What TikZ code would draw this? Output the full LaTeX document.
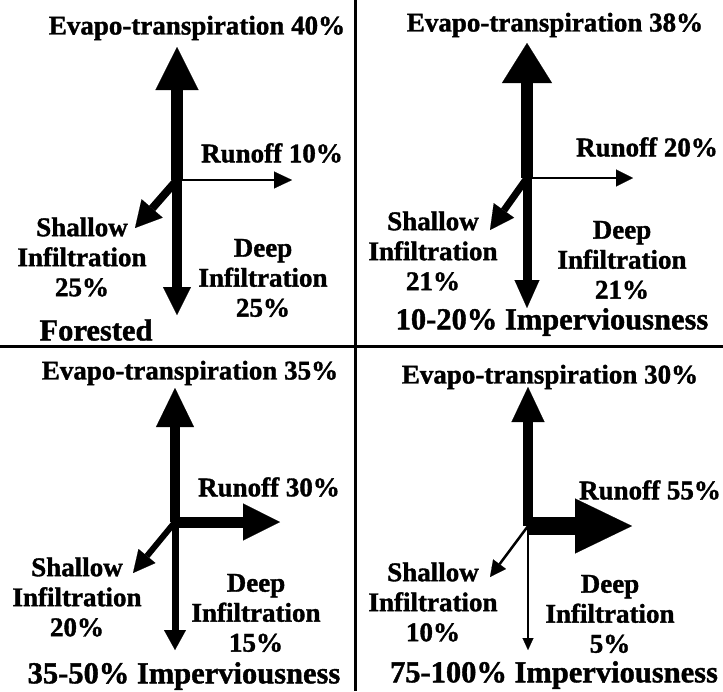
\documentclass[tikz,border=0pt]{standalone}
\usepackage{fontspec}
\setmainfont[BoldFeatures={FakeBold=1.3}]{Liberation Serif}
\usetikzlibrary{arrows.meta}
\tikzset{
    lbl/.style={font=\fontsize{27}{30}\selectfont\bfseries, align=center,
    	inner sep=0pt},
    ttl/.style={font=\fontsize{30.5}{33}\selectfont\bfseries, inner sep=0pt},
    flow/.style n args={3}{line width=#1,
    	-{Triangle[width=#2, length=#3, line width=0.1pt]}},
    rule/.style={line width=3pt}
}

\begin{document}
\begin{tikzpicture}[x=1pt, y=-1pt]
  \useasboundingbox (0, 0) rectangle (723, 691);
  \draw [rule] (355, 0) -- (355, 691);
  \draw [rule] (0, 346) -- (723, 346);

  % Forested
  \coordinate (mid_1) at (177, 180);
  \coordinate (up_1) at (177, 47);
  \coordinate (down_1) at (177, 315);
  \coordinate (run_1) at (292, 180);
  \coordinate (sh_1) at (135, 228);
  \node (et_1) [lbl] at (197, 28) {Evapo-transpiration 40\%};
  \node (ro_1) [lbl] at (272, 153) {Runoff 10\%};
  \node (si_1) [lbl] at (82, 257) {Shallow\\Infiltration\\25\%};
  \node (di_1) [lbl] at (263, 278) {Deep\\Infiltration\\25\%};
  \node (title_1) [ttl] at (96, 330) {Forested};
  \draw [flow={12pt}{43pt}{43pt}] (mid_1) -- (up_1);
  \draw [flow={10pt}{28pt}{28pt}] (mid_1) -- (down_1);
  \draw [flow={2pt}{17pt}{18pt}] (mid_1) -- (run_1);
  \draw [flow={8pt}{28pt}{26pt}] (mid_1) -- (sh_1);

  % 10-20%
  \coordinate (mid_2) at (527, 178);
  \coordinate (up_2) at (527, 43);
  \coordinate (down_2) at (527, 308);
  \coordinate (run_2) at (633, 178);
  \coordinate (sh_2) at (490, 230);
  \node (et_2) [lbl] at (555, 25) {Evapo-transpiration 38\%};
  \node (ro_2) [lbl] at (647, 147) {Runoff 20\%};
  \node (si_2) [lbl] at (433, 251) {Shallow\\Infiltration\\21\%};
  \node (di_2) [lbl] at (622, 260) {Deep\\Infiltration\\21\%};
  \node (title_2) [ttl] at (552, 322) {10-20\% Imperviousness};
  \draw [flow={12pt}{50pt}{40pt}] (mid_2) -- (up_2);
  \draw [flow={9pt}{25pt}{28pt}] (mid_2) -- (down_2);
  \draw [flow={2pt}{17pt}{17pt}] (mid_2) -- (run_2);
  \draw [flow={7pt}{25pt}{24pt}] (mid_2) -- (sh_2);

  % 35-50%
  \coordinate (mid_3) at (175, 522);
  \coordinate (up_3) at (175, 388);
  \coordinate (down_3) at (175, 650);
  \coordinate (run_3) at (280, 522);
  \coordinate (sh_3) at (133, 573);
  \node (et_3) [lbl] at (190, 373) {Evapo-transpiration 35\%};
  \node (ro_3) [lbl] at (269, 487) {Runoff 30\%};
  \node (si_3) [lbl] at (77, 597) {Shallow\\Infiltration\\20\%};
  \node (di_3) [lbl] at (256, 613) {Deep\\Infiltration\\15\%};
  \node (title_3) [ttl] at (184, 676) {35-50\% Imperviousness};
  \draw [flow={10pt}{38pt}{39pt}] (mid_3) -- (up_3);
  \draw [flow={7pt}{22pt}{20pt}] (mid_3) -- (down_3);
  \draw [flow={11pt}{37pt}{37pt}] (mid_3) -- (run_3);
  \draw [flow={6pt}{22pt}{22pt}] (mid_3) -- (sh_3);

  % 75-100%
  \coordinate (mid_4) at (528, 526);
  \coordinate (up_4) at (528, 387);
  \coordinate (down_4) at (528, 650);
  \coordinate (run_4) at (632, 526);
  \coordinate (sh_4) at (490, 577);
  \node (et_4) [lbl] at (550, 377) {Evapo-transpiration 30\%};
  \node (ro_4) [lbl] at (650, 490) {Runoff 55\%};
  \node (si_4) [lbl] at (433, 602) {Shallow\\Infiltration\\10\%};
  \node (di_4) [lbl] at (610, 614) {Deep\\Infiltration\\5\%};
  \node (title_4) [ttl] at (554, 675) {75-100\% Imperviousness};
  \draw [flow={10pt}{33pt}{35pt}] (mid_4) -- (up_4);
  \draw [flow={2.5pt}{11pt}{12pt}] (mid_4) -- (down_4);
  \draw [flow={18pt}{55pt}{57pt}] (mid_4) -- (run_4);
  \draw [flow={2.5pt}{16pt}{16pt}] (mid_4) -- (sh_4);
\end{tikzpicture}
\end{document}
